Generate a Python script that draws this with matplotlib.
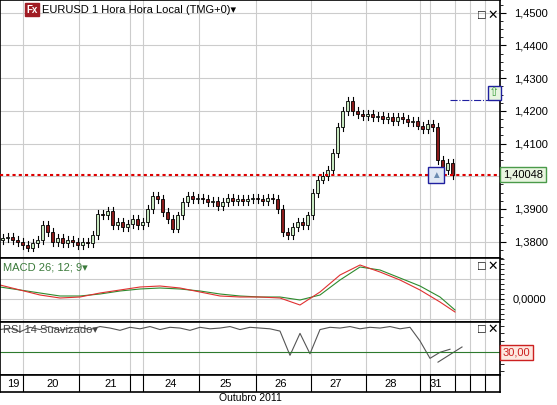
import matplotlib.pyplot as plt
from matplotlib.patches import Rectangle

plt.rcParams.update({'font.family': ['Liberation Sans', 'DejaVu Sans'], 'font.size': 8})

# hourly closes, one list per trading day
day_labels = ['19', '20', '21', '24', '25', '26', '27', '28', '31']
day_bounds = [0, 30, 80, 145, 200, 255, 310, 365, 420, 455]
closes = [
    1.3810, 1.3815, 1.3805, 1.3800, 1.3790, 1.3782,
    1.3795, 1.3805, 1.3850, 1.3830, 1.3800, 1.3810, 1.3795, 1.3805, 1.3800, 1.3790,
    1.3800, 1.3795, 1.3820, 1.3885, 1.3880, 1.3895, 1.3850, 1.3860, 1.3845, 1.3855, 1.3870, 1.3850, 1.3860,
    1.3900, 1.3940, 1.3930, 1.3890, 1.3870, 1.3840, 1.3880, 1.3920, 1.3940, 1.3930, 1.3935,
    1.3930, 1.3920, 1.3925, 1.3910, 1.3920, 1.3935, 1.3925, 1.3930, 1.3925, 1.3930, 1.3935,
    1.3930, 1.3925, 1.3935, 1.3930, 1.3900, 1.3830, 1.3820, 1.3845, 1.3860, 1.3850, 1.3880,
    1.3950, 1.3990, 1.4000, 1.4020, 1.4070, 1.4150, 1.4200, 1.4230, 1.4200, 1.4190, 1.4185,
    1.4190, 1.4180, 1.4185, 1.4175, 1.4180, 1.4170, 1.4180, 1.4175, 1.4165, 1.4170, 1.4155,
    1.4145, 1.4160, 1.4150, 1.4050, 1.4020, 1.4040, 1.4005,
]
first_open = 1.3805
last_price = 1.40048

macd_x = [0, 20, 40, 60, 80, 100, 120, 140, 160, 180, 200, 220, 240, 260, 280, 300, 320, 340, 360, 380, 400, 420, 440, 455]
macd_line = [14, 9, 4, 1, 2, 6, 9, 12, 13, 11, 7, 3, 2, 2, 1, -6, 7, 24, 34, 27, 19, 9, -3, -13]
signal_line = [12, 9, 6, 3, 3, 5, 8, 10, 11, 10, 8, 5, 3, 2, 2, -1, 4, 19, 32, 29, 21, 13, 2, -11]

rsi_x = list(range(0, 460, 10))
rsi = [60, 62, 57, 63, 60, 64, 59, 62, 63, 60, 64, 62, 59, 63, 61, 64, 60, 63, 62, 59,
       63, 61, 62, 64, 60, 63, 62, 61, 58, 26, 55, 28, 60, 63, 62, 64, 61, 63, 62, 64,
       61, 63, 45, 22, 30, 34]

fig = plt.figure(figsize=(5.57, 4.05), dpi=100)
W, H = 557, 405

def pax(top, bottom, left=0, right=500):
    return fig.add_axes([left / W, (H - bottom) / H, (right - left) / W, (bottom - top) / H])

ax = pax(0, 258)
ax_m = pax(258, 322)
ax_r = pax(322, 375)
ax_d = pax(375, 392)
grid_x = [23, 79, 130, 143, 199, 256, 311, 366, 420, 430, 455, 470, 485]

for a in (ax, ax_m, ax_r, ax_d):
    a.set_xlim(0, 500)
    a.set_xticks([])
    for s in a.spines.values():
        s.set_linewidth(1.2)
    for gx in grid_x:
        a.axvline(gx, color='#cccccc' if a is not ax_d else 'black', lw=0.8, zorder=0)

# candles
ax.set_ylim(1.3764, 1.4539)
ticks = [1.38 + 0.01 * i for i in range(8)]
ax.set_yticks(ticks)
ax.set_yticklabels(['' if abs(t - 1.40) < 1e-6 else f'{t:.4f}'.replace('.', ',') for t in ticks])
ax.set_yticks([1.375 + 0.0025 * i for i in range(32)], minor=True)
ax.yaxis.tick_right()
ax.tick_params(axis='y', length=4, pad=6)
ax.tick_params(axis='y', which='minor', length=2)
ax.grid(axis='y', color='#cccccc', lw=0.8)
prev = first_open
for i, c in enumerate(closes):
    x = 5 * i + 2.5
    lo, hi = min(prev, c), max(prev, c)
    ax.plot([x, x], [lo - 0.0012, hi + 0.0012], color='black', lw=0.8, zorder=2)
    face = '#c8e8c0' if c >= prev else '#8b1a1a'
    ax.add_patch(Rectangle((x - 1.8, lo), 3.6, max(hi - lo, 0.0002), facecolor=face,
                           edgecolor='black', lw=0.6, zorder=3))
    prev = c
ax.axhline(last_price, color='#dd0000', ls=(0, (1.5, 1.5)), lw=1.5, zorder=4)
ax.text(503, last_price, f'{last_price:.5f}'.replace('.', ','), va='center', ha='left',
        fontsize=8, bbox=dict(boxstyle='square,pad=0.25', fc='#e8f5e0', ec='#4a9a4a'),
        clip_on=False, zorder=5)
ax.text(436, last_price, '▲', ha='center', va='center', color='#6a8ab0', fontsize=7,
        bbox=dict(boxstyle='square,pad=0.3', fc='#e0e8f4', ec='#2020a0'), zorder=5)
ax.plot([450, 488], [1.4233, 1.4233], color='#2020a0', ls='-.', lw=0.8)
ax.text(494, 1.4255, '⇧', ha='center', va='center', color='#40a040', fontsize=9,
        bbox=dict(boxstyle='square,pad=0.1', fc='#e8f5e0', ec='#2020a0'), zorder=5)
ax.text(26, 1.4509, 'Fx', color='white', fontsize=7, fontweight='bold', va='center',
        bbox=dict(boxstyle='square,pad=0.15', fc='#a01c24', ec='#a01c24'))
ax.text(42, 1.4509, 'EURUSD 1 Hora Hora Local (TMG+0)▾', fontsize=8, va='center')
for a in (ax, ax_m, ax_r):
    a.text(485, 0.96, '□', transform=a.get_xaxis_transform(), fontsize=9, ha='right', va='top')
    a.text(498, 0.96, '✕', transform=a.get_xaxis_transform(), fontsize=9, ha='right', va='top',
           fontweight='bold')

# MACD
ax_m.set_ylim(-23, 41)
ax_m.plot(macd_x, signal_line, color='#2e8b2e', lw=0.8)
ax_m.plot(macd_x, macd_line, color='#e03030', lw=0.8)
ax_m.yaxis.tick_right()
ax_m.set_yticks([0])
ax_m.set_yticklabels(['0,0000'])
ax_m.set_yticks(range(-20, 41, 5), minor=True)
ax_m.tick_params(axis='y', which='both', length=3, pad=6)
ax_m.grid(axis='y', color='#cccccc', lw=0.8)
for gy in (-20, 20):
    ax_m.axhline(gy, color='#cccccc', lw=0.8, zorder=0)
ax_m.text(3, 37, 'MACD 26; 12; 9▾', color='#3a7a3a', fontsize=8, va='top')

# RSI
ax_r.set_ylim(0, 70)
ax_r.plot(rsi_x, rsi, color='#555555', lw=0.8)
ax_r.plot([438, 462], [17, 37], color='#555555', lw=0.8)
ax_r.axhline(30, color='#2e7a2e', lw=0.8)
ax_r.yaxis.tick_right()
ax_r.set_yticks([30])
ax_r.set_yticklabels([''])
ax_r.set_yticks(range(5, 70, 10), minor=True)
ax_r.tick_params(axis='y', which='both', length=3)
ax_r.text(503, 30, '30,00', va='center', ha='left', color='#cc2020', fontsize=8,
          bbox=dict(boxstyle='square,pad=0.25', fc='#fde8e0', ec='#cc2020'), clip_on=False)
ax_r.text(3, 66, 'RSI 14 Suavizado▾', color='#444444', fontsize=8, va='top')

# date strip
ax_d.set_yticks([])
ax_d.set_ylim(0, 1)
for lbl, a0, a1 in zip(day_labels, day_bounds[:-1], day_bounds[1:]):
    ax_d.text((a0 + a1) / 2 - 2, 0.45, lbl, ha='center', va='center', fontsize=8)
fig.text(250 / W, (H - 398) / H, 'Outubro 2011', ha='center', va='center', fontsize=7.5)

fig.savefig('out.png', dpi=100)
